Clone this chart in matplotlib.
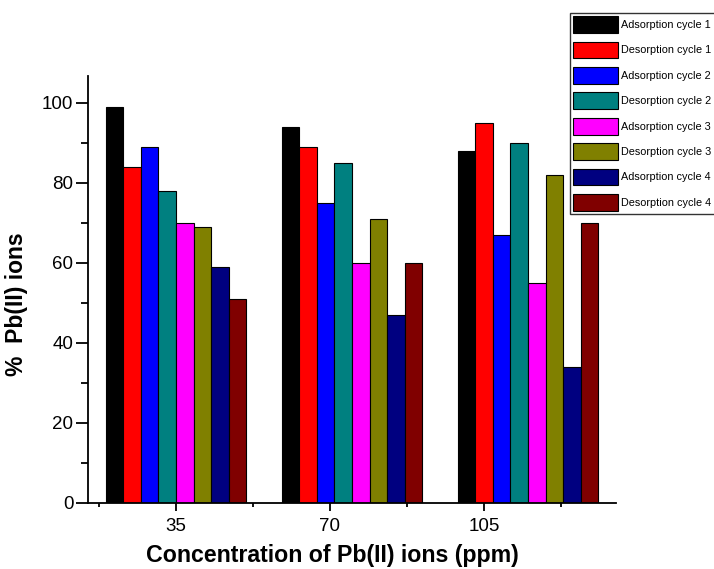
import matplotlib
matplotlib.use("Agg")
import matplotlib.pyplot as plt
from matplotlib.ticker import MultipleLocator, FixedLocator
import numpy as np

plt.rcParams['font.family'] = ['Liberation Sans', 'DejaVu Sans']

concentrations = [35, 70, 105]
series_names = ["Adsorption cycle 1", "Desorption cycle 1", "Adsorption cycle 2", "Desorption cycle 2",
                "Adsorption cycle 3", "Desorption cycle 3", "Adsorption cycle 4", "Desorption cycle 4"]
values = [
    [99, 94, 88],
    [84, 89, 95],
    [89, 75, 67],
    [78, 85, 90],
    [70, 60, 55],
    [69, 71, 82],
    [59, 47, 34],
    [51, 60, 70],
]
colors = ["#000000", "#ff0000", "#0000ff", "#008080", "#ff00ff", "#808000", "#000080", "#800000"]

fig = plt.figure(figsize=(7.14, 5.69), dpi=100)
ax = fig.add_axes([0.1232, 0.116, 0.7395, 0.7504])

group_pos = np.array([35 + 40 * i for i in range(len(concentrations))])
bw = 4.0
n = len(series_names)
for i, (name, vals, c) in enumerate(zip(series_names, values, colors)):
    ax.bar(group_pos + (i - (n - 1) / 2) * bw, vals, width=bw, color=c, edgecolor="black",
           linewidth=0.8, label=name)

ax.set_xlim(15, 135)
ax.set_ylim(0, 106.7)
ax.xaxis.set_major_locator(FixedLocator(concentrations))
ax.set_xticklabels([str(c) for c in concentrations])
ax.xaxis.set_minor_locator(FixedLocator([17.5, 52.5, 87.5, 122.5]))
ax.yaxis.set_major_locator(MultipleLocator(20))
ax.yaxis.set_minor_locator(MultipleLocator(10))
ax.spines['top'].set_visible(False)
ax.spines['right'].set_visible(False)
for s in ('left', 'bottom'):
    ax.spines[s].set_linewidth(1.3)
ax.tick_params(axis='y', which='major', direction='out', length=8.5, width=1.3, labelsize=13.5, pad=2)
ax.tick_params(axis='y', which='minor', direction='out', length=5, width=1.3)
ax.tick_params(axis='x', which='major', direction='out', length=6, width=1.3, labelsize=13.5, pad=5)
ax.tick_params(axis='x', which='minor', direction='out', length=3, width=1.3)

ax.set_xlabel("Concentration of Pb(II) ions (ppm)", fontsize=16.7, fontweight='bold')
ax.xaxis.set_label_coords(0.462, -0.097)
ax.set_ylabel("%  Pb(II) ions", fontsize=16.5, fontweight='bold')
ax.yaxis.set_label_coords(-0.113, 0.466)

leg = fig.legend(loc='upper left', bbox_to_anchor=(570 / 714, 1 - 13 / 569), fontsize=7.8,
                 handlelength=4.15, handleheight=2.0, labelspacing=0.8, handletextpad=0.3,
                 borderpad=0.3, borderaxespad=0, fancybox=False, framealpha=1)
leg.get_frame().set_edgecolor('#333333')
leg.get_frame().set_linewidth(1.0)

fig.savefig("out.png", dpi=100)
